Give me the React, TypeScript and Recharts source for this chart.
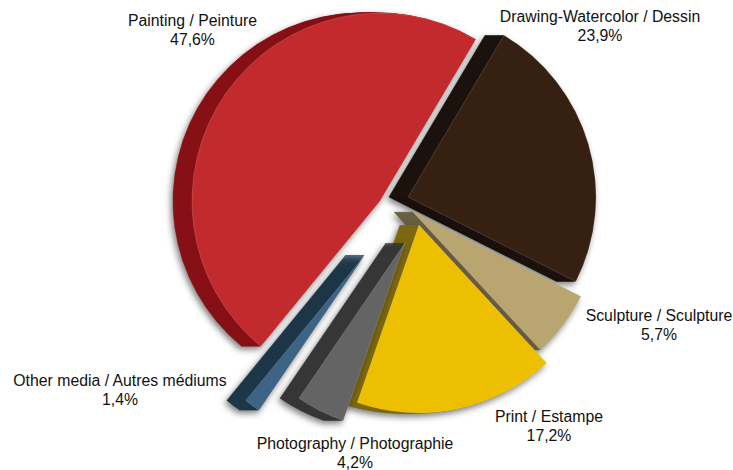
import { Pie, PieChart, Sector } from 'recharts'

// drawn in this order, clockwise from the top of the dark slice
const categories = [
  'Drawing-Watercolor / Dessin',
  'Sculpture / Sculpture',
  'Print / Estampe',
  'Photography / Photographie',
  'Other media / Autres médiums',
  'Painting / Peinture'
]
const shares = [23.9, 5.7, 17.2, 4.2, 1.4, 47.6]

const faceColors = ['#362012', '#b9a56f', '#ecc000', '#646464', '#3e6485', '#c32a2e']
const sideColors = ['#1c130e', '#6b5f45', '#7d6912', '#373737', '#1f3849', '#871116']

// how far each slice is pulled away from the pie centre
const explodeX = [8, 13, 19, 5, -35, -20]
const explodeY = [-13, 2, 15, 33, 45, -9]
const labelX = [600, 659, 549, 355, 120, 192.5]
const labelY = [22, 321, 422, 449, 386, 26]

const data = categories.map((name, i) => ({ name, value: shares[i] }))

const DEPTH = 19

function ExtrudedSlice(props: any) {
  const { cx, cy, outerRadius, startAngle, endAngle, index } = props
  const x = cx + explodeX[index]
  const y = cy + explodeY[index]
  const steps = Array.from({ length: DEPTH }, (_, i) => DEPTH - i)

  return (
    <g style={{ filter: 'drop-shadow(-2px 3px 3px rgba(0,0,0,0.5))' }}>
      {steps.map(step => (
        <Sector
          key={step}
          cx={x - step}
          cy={y}
          innerRadius={0}
          outerRadius={outerRadius}
          startAngle={startAngle}
          endAngle={endAngle}
          fill={sideColors[index]}
          stroke={sideColors[index]}
          strokeWidth={0.5}
        />
      ))}
      <Sector
        cx={x}
        cy={y}
        innerRadius={0}
        outerRadius={outerRadius}
        startAngle={startAngle}
        endAngle={endAngle}
        fill={faceColors[index]}
        stroke='rgba(255,255,255,0.25)'
        strokeWidth={0.6}
      />
    </g>
  )
}

function SliceLabel({ index }: any) {
  const pct = shares[index].toFixed(1).replace('.', ',') + '%'
  return (
    <text textAnchor='middle' fontFamily='Liberation Sans' fontSize={15.8} fill='#111'>
      <tspan x={labelX[index]} y={labelY[index]}>{categories[index]}</tspan>
      <tspan x={labelX[index]} dy={19}>{pct}</tspan>
    </text>
  )
}

export default function App() {
  return (
    <div style={{ position: 'absolute', left: 0, top: 0, width: 733, height: 470 }}>
      <PieChart width={733} height={470} margin={{ top: 0, right: 0, bottom: 0, left: 0 }}>
        <Pie
          data={data}
          dataKey='value'
          nameKey='name'
          cx={400}
          cy={210}
          innerRadius={0}
          outerRadius={188}
          startAngle={59.3}
          endAngle={-300.7}
          stroke='none'
          shape={ExtrudedSlice}
          label={SliceLabel}
          labelLine={false}
          isAnimationActive={false}
        />
      </PieChart>
    </div>
  )
}
